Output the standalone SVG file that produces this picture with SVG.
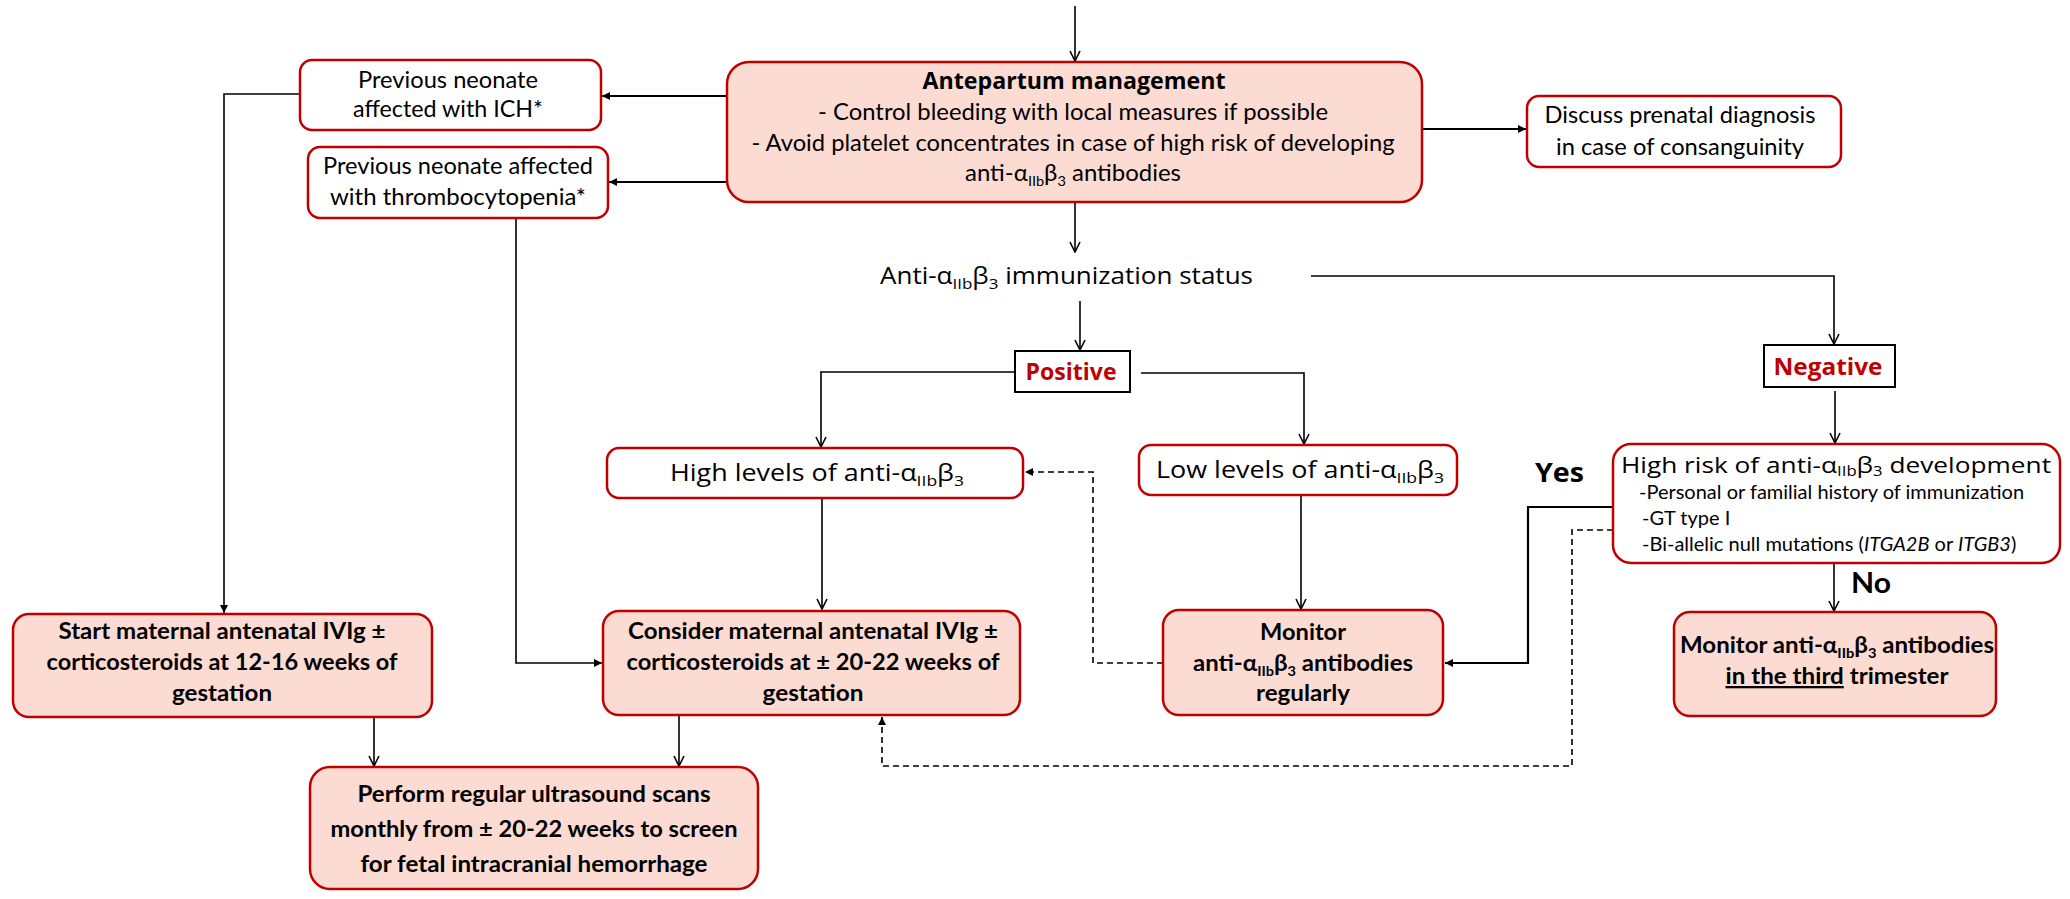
<svg xmlns="http://www.w3.org/2000/svg" width="2070" height="899" viewBox="0 0 2070 899" font-size="23">
<style>
.box{fill:#fff;stroke:#C00000;stroke-width:2.5}
.fbox{fill:#FCDBD2;stroke:#C00000;stroke-width:2.5}
.sq{fill:#fff;stroke:#000;stroke-width:2}
.c{font-family:Lato,"Liberation Sans",sans-serif;fill:#000}
.b{font-weight:bold}
.i{font-style:italic}
.cm{font-family:"Open Sans","DejaVu Sans",sans-serif;fill:#000}
.red{fill:#C00000}
.ln{fill:none;stroke:#000;stroke-width:1.6}
.lt{fill:none;stroke:#000;stroke-width:2.2}
.dash{stroke-dasharray:6 4}
</style>
<defs>
<marker id="v" viewBox="0 0 12 12" refX="11" refY="6" markerWidth="12" markerHeight="12" markerUnits="userSpaceOnUse" orient="auto">
<path d="M1,1 L11,6 L1,11" fill="none" stroke="#000" stroke-width="1.6"/>
</marker>
<marker id="t" viewBox="0 0 8 8" refX="8" refY="4" markerWidth="8" markerHeight="8" markerUnits="userSpaceOnUse" orient="auto">
<path d="M0,0 L8,4 L0,8 z" fill="#000"/>
</marker>
</defs>

<g id="connectors">
<path class="ln" d="M1075,6 V61" marker-end="url(#v)"/>
<path class="lt" d="M727,96 H602" marker-end="url(#t)"/>
<path class="lt" d="M727,182 H609" marker-end="url(#t)"/>
<path class="lt" d="M1422,129 H1526" marker-end="url(#t)"/>
<path class="ln" d="M299,94 H224 V613" marker-end="url(#t)"/>
<path class="ln" d="M516,218 V663 H602" marker-end="url(#t)"/>
<path class="ln" d="M1075,202 V252" marker-end="url(#v)"/>
<path class="ln" d="M1311,276 H1834 V344" marker-end="url(#v)"/>
<path class="ln" d="M1080,301 V350" marker-end="url(#v)"/>
<path class="ln" d="M1015,372 H821 V447" marker-end="url(#v)"/>
<path class="ln" d="M1141,373 H1304 V444" marker-end="url(#v)"/>
<path class="ln" d="M822,498 V609" marker-end="url(#v)"/>
<path class="ln" d="M1301,495 V609" marker-end="url(#v)"/>
<path class="ln" d="M1835,391 V443" marker-end="url(#v)"/>
<path class="ln" d="M1834,563 V611" marker-end="url(#v)"/>
<path class="lt" d="M1613,507 H1528 V663 H1445" marker-end="url(#t)"/>
<path class="ln dash" d="M1613,530 H1572 V766 H882 V717" marker-end="url(#t)"/>
<path class="ln dash" d="M1163,663 H1093 V472 H1025" marker-end="url(#t)"/>
<path class="ln" d="M374,717 V766" marker-end="url(#v)"/>
<path class="ln" d="M679,715 V766" marker-end="url(#v)"/>
</g>

<g id="antepartum">
<rect class="fbox" x="727" y="62" width="695" height="140" rx="22"/>
<text class="cm b" x="1074" y="89" font-size="23" text-anchor="middle" textLength="303" lengthAdjust="spacingAndGlyphs">Antepartum management</text>
<text class="c" x="1073" y="120" text-anchor="middle" textLength="510" lengthAdjust="spacingAndGlyphs">- Control bleeding with local measures if possible</text>
<text class="c" x="1073" y="151" text-anchor="middle" textLength="643" lengthAdjust="spacingAndGlyphs">- Avoid platelet concentrates in case of high risk of developing</text>
<text class="c" x="1073" y="181" text-anchor="middle" textLength="216" lengthAdjust="spacingAndGlyphs">anti-α<tspan font-size="14" dy="5">IIb</tspan><tspan dy="-5">β</tspan><tspan font-size="14" dy="5">3</tspan><tspan dy="-5"> antibodies</tspan></text>
</g>

<g id="ich">
<rect class="box" x="300" y="60" width="301" height="70" rx="12"/>
<text class="c" x="448" y="88" text-anchor="middle" textLength="180" lengthAdjust="spacingAndGlyphs">Previous neonate</text>
<text class="c" x="448" y="117" text-anchor="middle" textLength="190" lengthAdjust="spacingAndGlyphs">affected with ICH*</text>
</g>

<g id="thrombo">
<rect class="box" x="308" y="147" width="300" height="71" rx="12"/>
<text class="c" x="458" y="174" text-anchor="middle" textLength="270" lengthAdjust="spacingAndGlyphs">Previous neonate affected</text>
<text class="c" x="458" y="205" text-anchor="middle" textLength="256" lengthAdjust="spacingAndGlyphs">with thrombocytopenia*</text>
</g>

<g id="discuss">
<rect class="box" x="1527" y="96" width="314" height="71" rx="12"/>
<text class="c" x="1680" y="123" text-anchor="middle" textLength="271" lengthAdjust="spacingAndGlyphs">Discuss prenatal diagnosis</text>
<text class="c" x="1680" y="155" text-anchor="middle" textLength="248" lengthAdjust="spacingAndGlyphs">in case of consanguinity</text>
</g>

<g id="status">
<text class="cm" x="880" y="284" font-size="23" textLength="373" lengthAdjust="spacingAndGlyphs">Anti-α<tspan font-size="15" dy="5">IIb</tspan><tspan dy="-5">β</tspan><tspan font-size="15" dy="5">3</tspan><tspan dy="-5"> immunization status</tspan></text>
</g>

<g id="positive">
<rect class="sq" x="1015" y="351" width="115" height="41"/>
<text class="cm b red" x="1071" y="380" font-size="23" text-anchor="middle" textLength="91" lengthAdjust="spacingAndGlyphs">Positive</text>
</g>

<g id="negative">
<rect class="sq" x="1764" y="345" width="131" height="42"/>
<text class="cm b red" x="1828" y="375" font-size="23" text-anchor="middle" textLength="109" lengthAdjust="spacingAndGlyphs">Negative</text>
</g>

<g id="high-levels">
<rect class="box" x="607" y="448" width="416" height="50" rx="12"/>
<text class="cm" x="670" y="481" font-size="23" textLength="294" lengthAdjust="spacingAndGlyphs">High levels of anti-α<tspan font-size="15" dy="5">IIb</tspan><tspan dy="-5">β</tspan><tspan font-size="15" dy="5">3</tspan></text>
</g>

<g id="low-levels">
<rect class="box" x="1139" y="445" width="318" height="50" rx="12"/>
<text class="cm" x="1156" y="478" font-size="23" textLength="288" lengthAdjust="spacingAndGlyphs">Low levels of anti-α<tspan font-size="15" dy="5">IIb</tspan><tspan dy="-5">β</tspan><tspan font-size="15" dy="5">3</tspan></text>
</g>

<g id="high-risk">
<rect class="box" x="1613" y="444" width="447" height="119" rx="18"/>
<text class="cm" x="1621" y="473" font-size="22" textLength="430" lengthAdjust="spacingAndGlyphs">High risk of anti-α<tspan font-size="14" dy="3">IIb</tspan><tspan dy="-3">β</tspan><tspan font-size="14" dy="3">3</tspan><tspan dy="-3"> development</tspan></text>
<text class="c" x="1639" y="499" font-size="20">-Personal or familial history of immunization</text>
<text class="c" x="1642" y="525" font-size="20">-GT type I</text>
<text class="c" x="1642" y="551" font-size="20">-Bi-allelic null mutations (<tspan class="i">ITGA2B</tspan> or <tspan class="i">ITGB3</tspan>)</text>
</g>

<g id="labels">
<text class="cm b" x="1535" y="482" font-size="26" textLength="49" lengthAdjust="spacingAndGlyphs">Yes</text>
<text class="c b" x="1851" y="593" font-size="28" textLength="40" lengthAdjust="spacingAndGlyphs">No</text>
</g>

<g id="monitor-third">
<rect class="fbox" x="1674" y="612" width="322" height="104" rx="16"/>
<text class="c b" x="1837" y="653" text-anchor="middle" textLength="314" lengthAdjust="spacingAndGlyphs">Monitor anti-α<tspan font-size="14" dy="5">IIb</tspan><tspan dy="-5">β</tspan><tspan font-size="14" dy="5">3</tspan><tspan dy="-5"> antibodies</tspan></text>
<text class="c b" x="1837" y="684" text-anchor="middle" textLength="223" lengthAdjust="spacingAndGlyphs"><tspan style="text-decoration:underline">in the third</tspan> trimester</text>
</g>

<g id="start">
<rect class="fbox" x="13" y="614" width="419" height="103" rx="16"/>
<text class="c b" x="222" y="639" text-anchor="middle" textLength="327" lengthAdjust="spacingAndGlyphs">Start maternal antenatal IVIg ±</text>
<text class="c b" x="222" y="670" text-anchor="middle" textLength="351" lengthAdjust="spacingAndGlyphs">corticosteroids at 12-16 weeks of</text>
<text class="c b" x="222" y="701" text-anchor="middle" textLength="100" lengthAdjust="spacingAndGlyphs">gestation</text>
</g>

<g id="consider">
<rect class="fbox" x="603" y="611" width="417" height="104" rx="16"/>
<text class="c b" x="813" y="639" text-anchor="middle" textLength="370" lengthAdjust="spacingAndGlyphs">Consider maternal antenatal IVIg ±</text>
<text class="c b" x="813" y="670" text-anchor="middle" textLength="373" lengthAdjust="spacingAndGlyphs">corticosteroids at ± 20-22 weeks of</text>
<text class="c b" x="813" y="701" text-anchor="middle" textLength="101" lengthAdjust="spacingAndGlyphs">gestation</text>
</g>

<g id="monitor">
<rect class="fbox" x="1163" y="610" width="280" height="105" rx="16"/>
<text class="c b" x="1303" y="640" text-anchor="middle" textLength="86" lengthAdjust="spacingAndGlyphs">Monitor</text>
<text class="c b" x="1303" y="671" text-anchor="middle" textLength="220" lengthAdjust="spacingAndGlyphs">anti-α<tspan font-size="14" dy="5">IIb</tspan><tspan dy="-5">β</tspan><tspan font-size="14" dy="5">3</tspan><tspan dy="-5"> antibodies</tspan></text>
<text class="c b" x="1303" y="701" text-anchor="middle" textLength="94" lengthAdjust="spacingAndGlyphs">regularly</text>
</g>

<g id="perform">
<rect class="fbox" x="310" y="767" width="448" height="122" rx="20"/>
<text class="c b" x="534" y="802" text-anchor="middle" textLength="353" lengthAdjust="spacingAndGlyphs">Perform regular ultrasound scans</text>
<text class="c b" x="534" y="837" text-anchor="middle" textLength="407" lengthAdjust="spacingAndGlyphs">monthly from ± 20-22 weeks to screen</text>
<text class="c b" x="534" y="872" text-anchor="middle" textLength="347" lengthAdjust="spacingAndGlyphs">for fetal intracranial hemorrhage</text>
</g>
</svg>
